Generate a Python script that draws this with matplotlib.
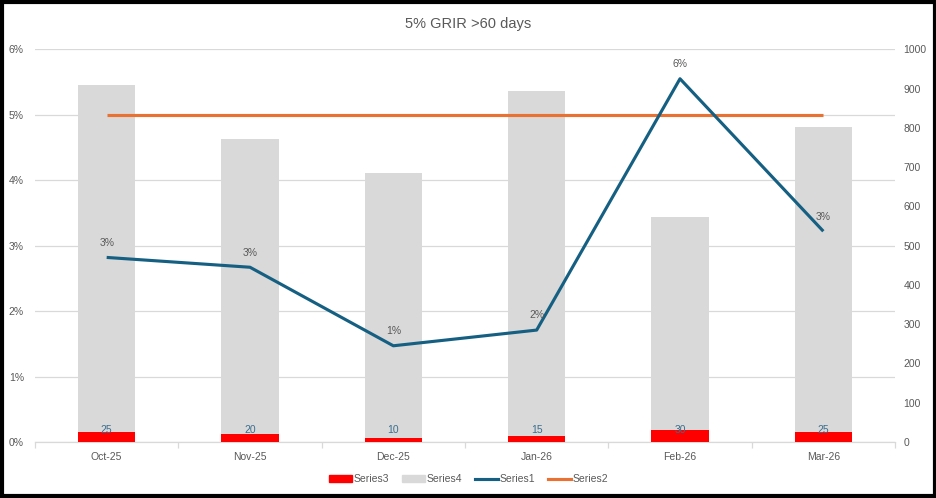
import matplotlib
matplotlib.use("Agg")
import matplotlib.pyplot as plt
import matplotlib.patches as patches
from matplotlib.lines import Line2D
from matplotlib.ticker import FuncFormatter, MultipleLocator, FixedLocator
import numpy as np

plt.rcParams['font.family'] = ['Liberation Sans', 'DejaVu Sans']

months = ["Oct-25", "Nov-25", "Dec-25", "Jan-26", "Feb-26", "Mar-26"]
series1 = [0.0282, 0.0267, 0.0147, 0.0171, 0.0555, 0.0322]   # line, left axis
series2 = [0.05, 0.05, 0.05, 0.05, 0.05, 0.05]                # target line
series3 = [25, 20, 10, 15, 30, 25]                            # red bars, right axis
series4 = [883, 751, 674, 878, 543, 777]                      # grey bars, stacked

text_c = '#595959'
grid_c = '#d9d9d9'

fig = plt.figure(figsize=(9.37, 4.98), dpi=100)
ax = fig.add_axes([35/937, 1-442/498, 860/937, (442-49.3)/498])
ax2 = ax.twinx()
ax3 = ax.twinx()

x = np.arange(len(months))

# left axis: gridlines only
ax.set_ylim(0, 0.06)
ax.set_xlim(-0.5, len(months)-0.5)
ax.yaxis.set_major_locator(MultipleLocator(0.01))
ax.yaxis.set_major_formatter(FuncFormatter(lambda v, p: f"{v*100:.0f}%"))
ax.grid(axis='y', color=grid_c, lw=0.9)
ax.set_axisbelow(True)
ax.set_xticks(x)
ax.set_xticklabels(months)
ax.xaxis.set_minor_locator(FixedLocator(np.arange(-0.5, len(months), 1)))
ax.tick_params(axis='x', which='major', length=0, pad=7, labelsize=7.5, labelcolor=text_c)
ax.tick_params(axis='x', which='minor', length=4, color=grid_c, width=0.9)
ax.tick_params(axis='y', length=0, pad=8, labelsize=7.5, labelcolor=text_c)
for s in ['top', 'right', 'left']:
    ax.spines[s].set_visible(False)
ax.spines['bottom'].set_color(grid_c)
ax.spines['bottom'].set_linewidth(0.9)

# right axis: bars
ax2.bar(x, series3, width=0.4, color='#ff0000', label='Series3')
ax2.bar(x, series4, width=0.4, bottom=series3, color='#d9d9d9', label='Series4')
ax2.set_ylim(0, 1000)
ax2.yaxis.set_major_locator(MultipleLocator(100))
ax2.tick_params(axis='y', length=0, pad=6, labelsize=7.5, labelcolor=text_c)
for s in ax2.spines.values():
    s.set_visible(False)
for xi, v in zip(x, series3):
    ax2.annotate(str(v), (xi, 0), xytext=(0, 8.5), textcoords='offset points',
                 ha='center', va='center', fontsize=7.5, color='#3a6e8f')

# lines on left scale, drawn on top
ax3.set_ylim(0, 0.06)
ax3.plot(x, series2, color='#e97132', lw=2.25, solid_capstyle='butt')
ax3.plot(x, series1, color='#156082', lw=2.25, solid_capstyle='butt')
for xi, v in zip(x, series1):
    ax3.annotate(f"{v*100:.0f}%", (xi, v), xytext=(0, 10.5), textcoords='offset points',
                 ha='center', va='center', fontsize=7.5, color=text_c)
ax3.set_yticks([])
for s in ax3.spines.values():
    s.set_visible(False)

fig.text(0.5, 1-24/498, "5% GRIR >60 days", ha='center', va='center',
         fontsize=10.5, color=text_c)

handles = [patches.Patch(color='#ff0000'), patches.Patch(color='#d9d9d9'),
           Line2D([], [], color='#156082', lw=2.25),
           Line2D([], [], color='#e97132', lw=2.25)]
leg = fig.legend(handles, ['Series3', 'Series4', 'Series1', 'Series2'],
                 loc='center', bbox_to_anchor=(0.5, 1-479/498), ncol=4, frameon=False,
                 fontsize=7.5, handlelength=2.2, handleheight=0.6, handletextpad=0.2,
                 columnspacing=1.2)
for t in leg.get_texts():
    t.set_color(text_c)

fig.patches.append(patches.Rectangle((2/937, 2/498), 1-4/937, 1-4/498,
                                     transform=fig.transFigure, fill=False,
                                     edgecolor='black', lw=3))

fig.savefig("out.png", dpi=100)
